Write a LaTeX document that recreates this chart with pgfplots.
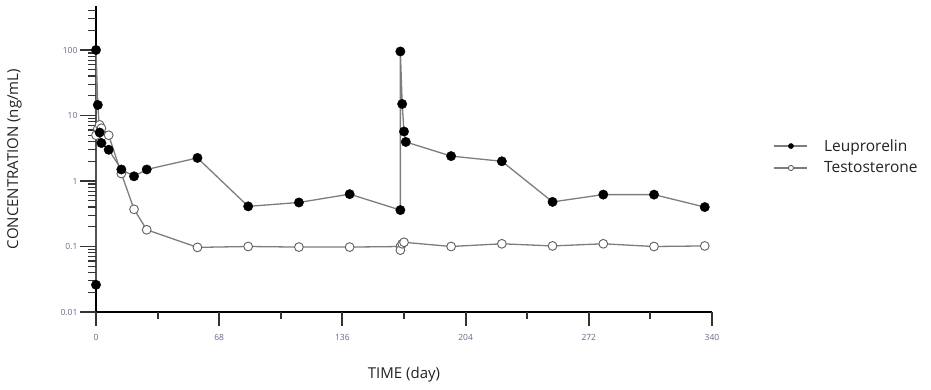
\documentclass[border=0pt]{standalone}
\usepackage{pgfplots}
\pgfplotsset{compat=1.18}
\usepackage{fontspec}
\setmainfont{Open Sans}
\definecolor{tickc}{RGB}{100,106,140}
\definecolor{linec}{RGB}{125,125,125}
\definecolor{circc}{RGB}{95,95,95}
\definecolor{txtc}{RGB}{35,35,35}
\tikzset{tickline/.style={line width=1.9pt, black!80}}

\pgfplotstableread{
x y
0 0.026
0 100
1 14.5
2 5.5
3 3.8
7 3.0
14 1.5
21 1.18
28 1.5
56 2.25
84 0.41
112 0.47
140 0.63
168 0.36
168 95
169 15
170 5.7
171 3.95
196 2.4
224 2.0
252 0.48
280 0.62
308 0.62
336 0.40
}\leup

\pgfplotstableread{
x y
0 5.0
1 6.3
2 7.2
3 6.4
7 5.0
14 1.3
21 0.37
28 0.18
56 0.097
84 0.10
112 0.098
140 0.098
168 0.10
168 0.088
169 0.11
170 0.116
196 0.10
224 0.11
252 0.102
280 0.11
308 0.10
336 0.102
}\testo

\begin{document}
\begin{tikzpicture}
\begin{axis}[
  at={(96pt,78pt)}, anchor=south west,
  scale only axis, width=616pt, height=306pt,
  ymode=log, xmin=0, xmax=340, ymin=0.01, ymax=470,
  axis x line*=bottom, axis y line*=left,
  axis line style={line width=1.6pt, black},
  clip=false,
  xtick align=outside, ytick align=outside,
  major tick length=15pt, minor tick length=8pt,
  tick style={draw=none},
  xtick={0,68,136,204,272,340},
  minor xtick={34,102,170,238,306},
  ytick={0.01,0.1,1,10,100},
  yticklabels={0.01,0.1,1,10,100},
  xticklabels={0,68,136,204,272,340},
  /pgf/number format/assume math mode=true,
  tick label style={font=\fontsize{8.5}{9}\selectfont, text=tickc},
  xticklabel style={yshift=-4pt},
  xlabel={TIME (day)},
  ylabel={CONCENTRATION (ng/mL)},
  every axis x label/.style={at={(rel axis cs:0.5,0)}, yshift=-63pt, anchor=center,
     font=\fontsize{15}{18}\selectfont, text=txtc},
  every axis y label/.style={at={(rel axis cs:0,0.5)}, xshift=-81.5pt, rotate=90, anchor=center,
     font=\fontsize{15}{18}\selectfont, text=txtc},
  reverse legend,
  legend style={at={(1.1,0.507)}, anchor=west, draw=none, fill=none,
    font=\fontsize{15.5}{18}\selectfont, text=txtc, row sep=5pt, inner sep=0pt,
    /tikz/every odd column/.append style={column sep=14pt}},
  legend cell align=left,
  legend image code/.code={
    \draw[#1,mark=none] (0pt,0pt) -- (33pt,0pt);
    \draw[#1,mark size=2.6pt,only marks] plot coordinates {(16.5pt,0pt)};
  },
]
\addplot[color=linec, line width=1.3pt, mark=*, mark size=4.4pt,
  mark options={fill=white, draw=circc, line width=0.9pt, solid}]
  table[x=x,y=y] {\testo};
\addlegendentry{Testosterone}
\addplot[color=linec, line width=1.3pt, mark=*, mark size=4.7pt,
  mark options={fill=black, draw=black, line width=0.4pt, solid}]
  table[x=x,y=y] {\leup};
\addlegendentry{Leuprorelin}
% axis tick marks
\pgfplotsinvokeforeach{0,68,136,204,272,340}{
  \draw[tickline] (axis cs:#1,0.01) -- ++(0pt,-14pt);
}
\pgfplotsinvokeforeach{34,102,170,238,306}{
  \draw[tickline] (axis cs:#1,0.01) -- ++(0pt,-7pt);
}
\pgfplotsinvokeforeach{0.01,0.1,1,10,100}{
  \draw[tickline] (axis cs:0,#1) -- ++(-16pt,0pt);
}
\pgfplotsinvokeforeach{0.02,0.03,0.04,0.05,0.06,0.07,0.08,0.09,
  0.2,0.3,0.4,0.5,0.6,0.7,0.8,0.9,2,3,4,5,6,7,8,9,
  20,30,40,50,60,70,80,90,200,300,400}{
  \draw[line width=1.2pt, black!80] (axis cs:0,#1) -- ++(-8pt,0pt);
}
\end{axis}
\pgfresetboundingbox
\useasboundingbox (0,0) rectangle (931pt,390pt);
\end{tikzpicture}
\end{document}
